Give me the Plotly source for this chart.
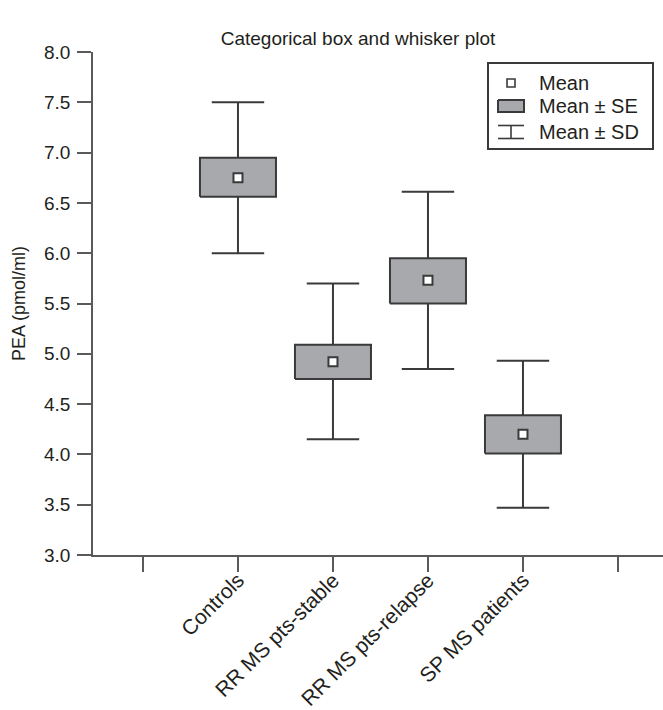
import plotly.graph_objects as go

# ---- data ----
categories = ["Controls", "RR MS pts-stable", "RR MS pts-relapse", "SP MS patients"]
means = [6.75, 4.92, 5.73, 4.20]
se_low = [6.56, 4.75, 5.50, 4.01]
se_high = [6.95, 5.09, 5.95, 4.39]
sd_low = [6.00, 4.15, 4.85, 3.47]
sd_high = [7.50, 5.70, 6.61, 4.93]
y_ticks = [3.0, 3.5, 4.0, 4.5, 5.0, 5.5, 6.0, 6.5, 7.0, 7.5, 8.0]
legend_labels = ["Mean", "Mean \u00b1 SE", "Mean \u00b1 SD"]

# ---- style ----
FONT = "Liberation Sans, Arial, sans-serif"
TXT = "#231f20"
EDGE = "#3a3a3a"
AXIS = "#5a5a5a"
FILL = "#a7a9ac"
BOX_HALF = 0.4

positions = list(range(1, len(categories) + 1))
tick_positions = [0] + positions + [len(categories) + 1]
tick_labels = [""] + categories + [""]

fig = go.Figure()

# whiskers (mean +/- SD) drawn by a box trace collapsed onto the mean
fig.add_trace(go.Box(
    x=positions, q1=means, median=means, q3=means,
    lowerfence=sd_low, upperfence=sd_high,
    width=2 * BOX_HALF, whiskerwidth=0.69,
    fillcolor=FILL, line=dict(color=EDGE, width=2),
    boxpoints=False, showlegend=False, hoverinfo="skip",
))

# boxes (mean +/- SE), drawn on top of the whiskers
bx, by = [], []
for p, lo, hi in zip(positions, se_low, se_high):
    bx += [p - BOX_HALF, p + BOX_HALF, p + BOX_HALF, p - BOX_HALF, p - BOX_HALF, None]
    by += [lo, lo, hi, hi, lo, None]
fig.add_trace(go.Scatter(
    x=bx, y=by, mode="lines", fill="toself", fillcolor=FILL,
    line=dict(color=EDGE, width=2), showlegend=False, hoverinfo="skip",
))

# means
fig.add_trace(go.Scatter(
    x=positions, y=means, mode="markers",
    marker=dict(symbol="square", size=9, color="white",
                line=dict(color=EDGE, width=2)),
    showlegend=False, hoverinfo="skip",
))

# ---- hand-made legend in its own small axes (pixel-like units) ----
LW, LH = 163, 84
sym_cx = 22
rows_y = [19, 42, 68]
fig.add_trace(go.Scatter(
    x=[sym_cx], y=[rows_y[0]], mode="markers", xaxis="x2", yaxis="y2",
    marker=dict(symbol="square", size=8, color="white", line=dict(color=EDGE, width=1.6)),
    showlegend=False, hoverinfo="skip",
))
fig.add_trace(go.Scatter(
    x=[sym_cx - 13, sym_cx + 13, sym_cx + 13, sym_cx - 13, sym_cx - 13],
    y=[rows_y[1] - 6, rows_y[1] - 6, rows_y[1] + 6, rows_y[1] + 6, rows_y[1] - 6],
    mode="lines", fill="toself", fillcolor=FILL, xaxis="x2", yaxis="y2",
    line=dict(color=EDGE, width=2), showlegend=False, hoverinfo="skip",
))
fig.add_trace(go.Scatter(
    x=[sym_cx - 13, sym_cx + 13, None, sym_cx, sym_cx, None, sym_cx - 13, sym_cx + 13],
    y=[rows_y[2] - 6.5, rows_y[2] - 6.5, None, rows_y[2] - 6.5, rows_y[2] + 6.5, None,
       rows_y[2] + 6.5, rows_y[2] + 6.5],
    mode="lines", xaxis="x2", yaxis="y2",
    line=dict(color=EDGE, width=1.6), showlegend=False, hoverinfo="skip",
))
for lab, yy in zip(legend_labels, rows_y):
    fig.add_annotation(x=48, y=yy, xref="x2", yref="y2", text=lab, showarrow=False,
                       xanchor="left", yanchor="middle",
                       font=dict(family=FONT, size=20, color=TXT))

fig.update_layout(
    width=663, height=710,
    margin=dict(l=93, r=0, t=52, b=155, autoexpand=False),
    paper_bgcolor="white", plot_bgcolor="white",
    font=dict(family=FONT, color=TXT),
    title=dict(text="Categorical box and whisker plot", x=358 / 663, xref="container",
               xanchor="center", y=1 - 38 / 710, yref="container", yanchor="middle",
               font=dict(family=FONT, size=19, color=TXT)),
    xaxis=dict(range=[-0.526, 5.474], tickmode="array", tickvals=tick_positions,
               ticktext=tick_labels, tickangle=-45, ticks="outside", ticklen=15,
               tickwidth=1.5, tickcolor=AXIS, showline=True, linecolor=AXIS,
               linewidth=1.5, showgrid=False, zeroline=False, automargin=False,
               ticklabelstandoff=-12,
               tickfont=dict(family=FONT, size=21, color=TXT)),
    yaxis=dict(range=[3, 8], tickmode="array", tickvals=y_ticks,
               ticktext=[f"{v:.1f}" for v in y_ticks], ticks="outside", ticklen=14,
               tickwidth=1.5, tickcolor=AXIS, showline=True, linecolor=AXIS,
               linewidth=1.5, showgrid=False, zeroline=False, automargin=False,
               ticklabelstandoff=3,
               tickfont=dict(family=FONT, size=19, color=TXT),
               title=dict(text="PEA (pmol/ml)", standoff=14,
                          font=dict(family=FONT, size=18, color=TXT))),
    xaxis2=dict(domain=[(489 - 93) / 570, (652 - 93) / 570], anchor="y2",
                range=[0, LW], showline=True, mirror=True, linecolor=EDGE,
                linewidth=1.5, showgrid=False, zeroline=False, showticklabels=False,
                ticks="", fixedrange=True),
    yaxis2=dict(domain=[(555 - 148) / 503, (555 - 64) / 503], anchor="x2",
                range=[LH, 0], showline=True, mirror=True, linecolor=EDGE,
                linewidth=1.5, showgrid=False, zeroline=False, showticklabels=False,
                ticks="", fixedrange=True),
)

fig.write_html("out.html")
